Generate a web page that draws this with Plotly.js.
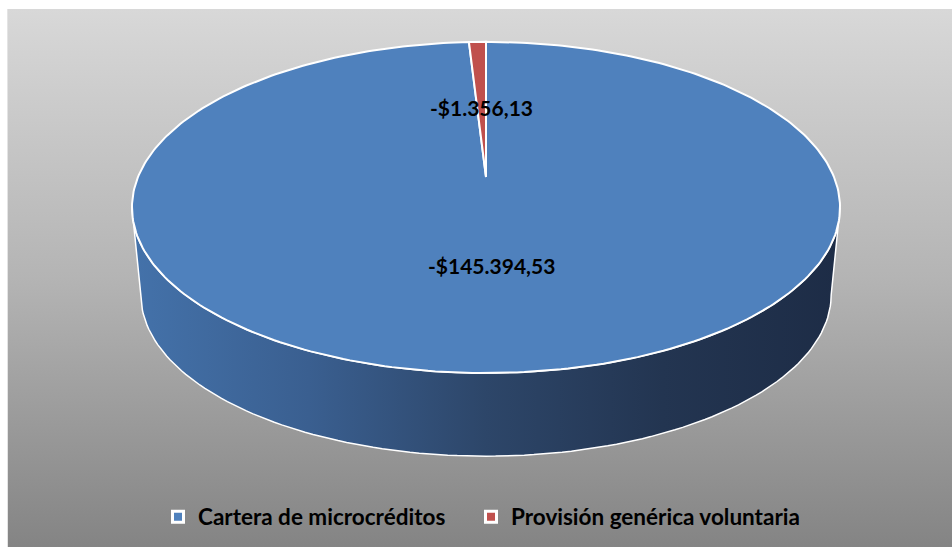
<!DOCTYPE html>
<html>
<head>
<meta charset="utf-8">
<script src="https://cdn.plot.ly/plotly-3.0.1.min.js"></script>
<style>
  html, body { margin: 0; padding: 0; background: #ffffff; }
  #bg { position: absolute; left: 7px; top: 9px; width: 945px; height: 538px;
        background: linear-gradient(to bottom, #d8d8d8 0%, #b4b4b4 50%, #848484 100%);
        border-left: 1px solid #e4e4e4; box-sizing: border-box; }
  #chart { position: absolute; left: 0; top: 0; width: 952px; height: 547px; }
</style>
</head>
<body>
<div id="bg"></div>
<div id="chart"></div>
<script>
// ---- data ----
const categories = ['Cartera de microcréditos', 'Provisión genérica voluntaria'];
const values = [-145394.53, -1356.13];
const colors = ['#4F81BD', '#C0504D'];

// ---- formatting (es style: thousands '.', decimals ',') ----
function fmt(v) {
  const neg = v < 0;
  const parts = Math.abs(v).toFixed(2).split('.');
  const intPart = parts[0].replace(/\B(?=(\d{3})+(?!\d))/g, '.');
  return (neg ? '-' : '') + '$' + intPart + ',' + parts[1];
}

// ---- 3D pie projection (perspective) ----
const geo = { cx: 486, cy: 177, A: 348, B: 160, k: 0.184, f: 0.975, d: 88 };
function proj(u, v, bottom) {
  const s = 1 / (1 - geo.k * v);
  const f = bottom ? geo.f : 1;
  return [geo.cx + geo.A * f * u * s, geo.cy + (bottom ? geo.d : 0) + geo.B * f * v * s];
}
function polar(theta, r, bottom) { // theta clockwise from top, degrees
  const t = theta * Math.PI / 180;
  return proj(r * Math.sin(t), -r * Math.cos(t), bottom);
}

const total = values.reduce((a, b) => a + Math.abs(b), 0);
const traces = [];

// side wall (front half)
(function () {
  const xs = [], ys = [];
  const a0 = Math.asin(geo.k), a1 = Math.PI - Math.asin(geo.k);
  const N = 120;
  for (let i = 0; i <= N; i++) {
    const p = a0 + (a1 - a0) * i / N;
    const q = proj(Math.cos(p), Math.sin(p), false);
    xs.push(q[0]); ys.push(q[1]);
  }
  for (let i = N; i >= 0; i--) {
    const p = a0 + (a1 - a0) * i / N;
    const q = proj(Math.cos(p), Math.sin(p), true);
    xs.push(q[0]); ys.push(q[1]);
  }
  xs.push(xs[0]); ys.push(ys[0]);
  traces.push({
    type: 'scatter', mode: 'lines', x: xs, y: ys, fill: 'toself',
    fillgradient: { type: 'horizontal',
      colorscale: [[0, '#4472AA'], [0.25, '#3A5F90'], [0.5, '#2D4669'], [0.75, '#233551'], [1, '#1D2C46']] },
    line: { color: '#ffffff', width: 1.5 }, showlegend: false, hoverinfo: 'skip'
  });
})();

// top face slices
let start = 0;
const mids = [];
values.forEach((v, i) => {
  const sweep = Math.abs(v) / total * 360;
  const xs = [], ys = [];
  const c = proj(0, 0, false);
  xs.push(c[0]); ys.push(c[1]);
  const N = Math.max(4, Math.ceil(sweep / 1));
  for (let j = 0; j <= N; j++) {
    const q = polar(start + sweep * j / N, 1, false);
    xs.push(q[0]); ys.push(q[1]);
  }
  xs.push(c[0]); ys.push(c[1]);
  traces.push({
    type: 'scatter', mode: 'lines', x: xs, y: ys, fill: 'toself',
    fillcolor: colors[i], line: { color: '#ffffff', width: 2 },
    showlegend: false, hoverinfo: 'skip'
  });
  mids.push(start + sweep / 2);
  start += sweep;
});

// legend entries (one legend box per entry)
const legendIds = ['legend', 'legend2'];
categories.forEach((c, i) => {
  traces.push({
    type: 'scatter', mode: 'markers', x: [null], y: [null], name: c, legend: legendIds[i],
    marker: { symbol: 'square', size: 11, color: colors[i], line: { color: '#ffffff', width: 3 } },
    showlegend: true
  });
});

// data labels
const labelR = [0.5, 0.47];
const annotations = values.map((v, i) => {
  const q = polar(mids[i], labelR[i], false);
  return { x: q[0], y: q[1], xref: 'x', yref: 'y', text: fmt(v), showarrow: false,
    font: { family: 'Lato, sans-serif', size: 21, weight: 'bold', color: '#000000' } };
});

const legendFont = { family: 'Lato, sans-serif', size: 22.5, weight: 'bold', color: '#000000' };
function legendAt(xpx) {
  return { orientation: 'h', x: xpx / 952, xanchor: 'left', y: 1 - 517 / 547, yanchor: 'middle',
    bgcolor: 'rgba(0,0,0,0)', borderwidth: 0, font: legendFont, itemwidth: 30 };
}

const layout = {
  width: 952, height: 547,
  margin: { l: 0, r: 0, t: 0, b: 0, pad: 0 },
  paper_bgcolor: 'rgba(0,0,0,0)', plot_bgcolor: 'rgba(0,0,0,0)',
  xaxis: { range: [0, 952], visible: false, fixedrange: true },
  yaxis: { range: [547, 0], visible: false, fixedrange: true },
  showlegend: true,
  legend: legendAt(158),
  legend2: legendAt(471),
  annotations: annotations
};

Plotly.newPlot('chart', traces, layout, { displayModeBar: false, staticPlot: true });
</script>
</body>
</html>
